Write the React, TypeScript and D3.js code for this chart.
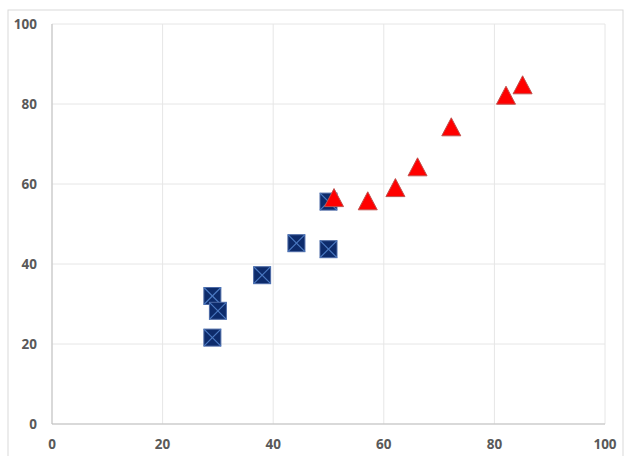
import React from "react";
import * as d3 from "d3";

const squareX = [29, 30, 29, 38, 44.2, 50, 50];
const squareY = [32, 28.3, 21.6, 37.2, 45.2, 43.7, 55.6];
const triX = [51, 57.1, 62.1, 66.1, 72.2, 82.1, 85.1];
const triY = [56.6, 55.8, 59.1, 64.3, 74.3, 82.2, 84.8];
const xTicks = [0, 20, 40, 60, 80, 100];
const yTicks = [0, 20, 40, 60, 80, 100];

const W = 624;
const H = 456;

export default function App() {
  const x = d3.scaleLinear().domain([0, 100]).range([52, 605]);
  const y = d3.scaleLinear().domain([0, 100]).range([424, 24]);
  const s = 8.5;
  const triPath = (cx: number, cy: number) => {
    const h = 18, w = 19;
    return `M${cx},${cy - h / 2}L${cx + w / 2},${cy + h / 2}L${cx - w / 2},${cy + h / 2}Z`;
  };
  const font = "'Open Sans', 'DejaVu Sans', sans-serif";
  return (
    <svg width={W} height={H} style={{ position: "absolute", left: 0, top: 0, background: "#fff" }}>
      <rect x={8} y={10} width={615} height={460} fill="#fff" stroke="#d9d9d9" strokeWidth={1} />
      {xTicks.map((t) => (
        <line key={"gx" + t} x1={x(t)} x2={x(t)} y1={y(100)} y2={y(0)} stroke="#e6e6e6" strokeWidth={1} />
      ))}
      {yTicks.map((t) => (
        <line key={"gy" + t} x1={x(0)} x2={x(100)} y1={y(t)} y2={y(t)} stroke="#e6e6e6" strokeWidth={1} />
      ))}
      <line x1={x(0)} x2={x(0)} y1={y(100)} y2={y(0)} stroke="#bfbfbf" strokeWidth={1} />
      <line x1={x(0)} x2={x(100)} y1={y(0)} y2={y(0)} stroke="#bfbfbf" strokeWidth={1} />
      {yTicks.map((t) => (
        <text key={"ly" + t} x={37} y={y(t)} dy="0.35em" textAnchor="end" fontFamily={font} fontWeight="bold" fontSize={13.5} fill="#595959">
          {t}
        </text>
      ))}
      {xTicks.map((t) => (
        <text key={"lx" + t} x={x(t)} y={444} dy="0.35em" textAnchor="middle" fontFamily={font} fontWeight="bold" fontSize={13.5} fill="#595959">
          {t}
        </text>
      ))}
      {squareX.map((v, i) => {
        const cx = x(v), cy = y(squareY[i]);
        return (
          <g key={"sq" + i}>
            <rect x={cx - s} y={cy - s} width={2 * s} height={2 * s} fill="#0d2b6b" stroke="#4d6aa6" strokeWidth={1} />
            <line x1={cx - s} y1={cy - s} x2={cx + s} y2={cy + s} stroke="#4a78c0" strokeWidth={1.2} />
            <line x1={cx - s} y1={cy + s} x2={cx + s} y2={cy - s} stroke="#4a78c0" strokeWidth={1.2} />
          </g>
        );
      })}
      {triX.map((v, i) => (
        <path key={"tr" + i} d={triPath(x(v), y(triY[i]))} fill="#ff0000" stroke="#c0504d" strokeWidth={1} />
      ))}
    </svg>
  );
}
